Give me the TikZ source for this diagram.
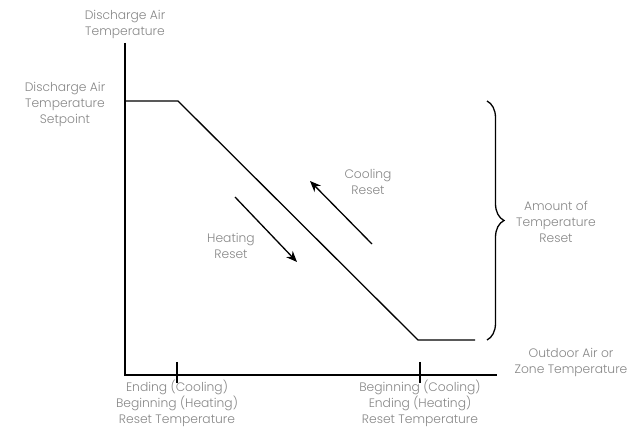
\documentclass[tikz,border=0pt]{standalone}
\usepackage{fontspec}
\setmainfont{Poppins}[UprightFont=*-Light]
\usepackage{tikz}
\usetikzlibrary{positioning,calc}
\usetikzlibrary{arrows.meta}
\usetikzlibrary{decorations.pathreplacing}
\definecolor{testo}{RGB}{135,135,135}
\tikzstyle{etichetta} = [text=testo, align=center, inner sep=0pt, font=\fontsize{12.3}{16}\selectfont]
\tikzstyle{asse} = [line width=2pt]
\tikzstyle{curva} = [line width=1.3pt]
\tikzstyle{freccia} = [line width=1.3pt,-{Stealth[length=11pt,width=9pt]}]

\begin{document}
\begin{tikzpicture}[x=1pt,y=-1pt]
	\useasboundingbox (0,0) rectangle (637,427);
	\coordinate (o) at (125,375);
	\coordinate (ytop) at (125,43);
	\coordinate (xend) at (497,375);
	\coordinate (t1) at (177,375);
	\coordinate (t2) at (420,375);
	\coordinate (a) at (125,101);
	\coordinate (b) at (178,101);
	\coordinate (c) at (418,340);
	\coordinate (d) at (475,340);
	\coordinate (bt) at (487,101);
	\coordinate (bb) at (487,340);
	\coordinate (h1) at (235,197);
	\coordinate (h2) at (297,262);
	\coordinate (c1) at (372,244);
	\coordinate (c2) at (310,181);
	% assi
	\draw[asse] (ytop) -- (o) -- (xend);
	\draw[curva] ($(t1)+(0,-13)$) -- ($(t1)+(0,8)$);
	\draw[curva] ($(t2)+(0,-13)$) -- ($(t2)+(0,8)$);
	% curva di reset
	\draw[curva] (a) -- (b) -- (c) -- (d);
	\draw[curva, decorate, decoration={brace, amplitude=17pt, aspect=0.5}] (bt) -- (bb);
	\draw[freccia] (h1) -- (h2);
	\draw[freccia] (c1) -- (c2);
	% etichette
	\node (ylab) at (125,24) [etichetta] {Discharge Air\\Temperature};
	\node (sp) at (65,104) [etichetta] {Discharge Air\\Temperature\\Setpoint};
	\node (xlab) at (571,362) [etichetta] {Outdoor Air or\\Zone Temperature};
	\node (l1) at (177,403) [etichetta] {Ending (Cooling)\\Beginning (Heating)\\Reset Temperature};
	\node (l2) at (420,403) [etichetta] {Beginning (Cooling)\\Ending (Heating)\\Reset Temperature};
	\node (cr) at (368,182) [etichetta] {Cooling\\Reset};
	\node (hr) at (231,246) [etichetta] {Heating\\Reset};
	\node (am) at (556,222) [etichetta] {Amount of\\Temperature\\Reset};
\end{tikzpicture}
\end{document}
